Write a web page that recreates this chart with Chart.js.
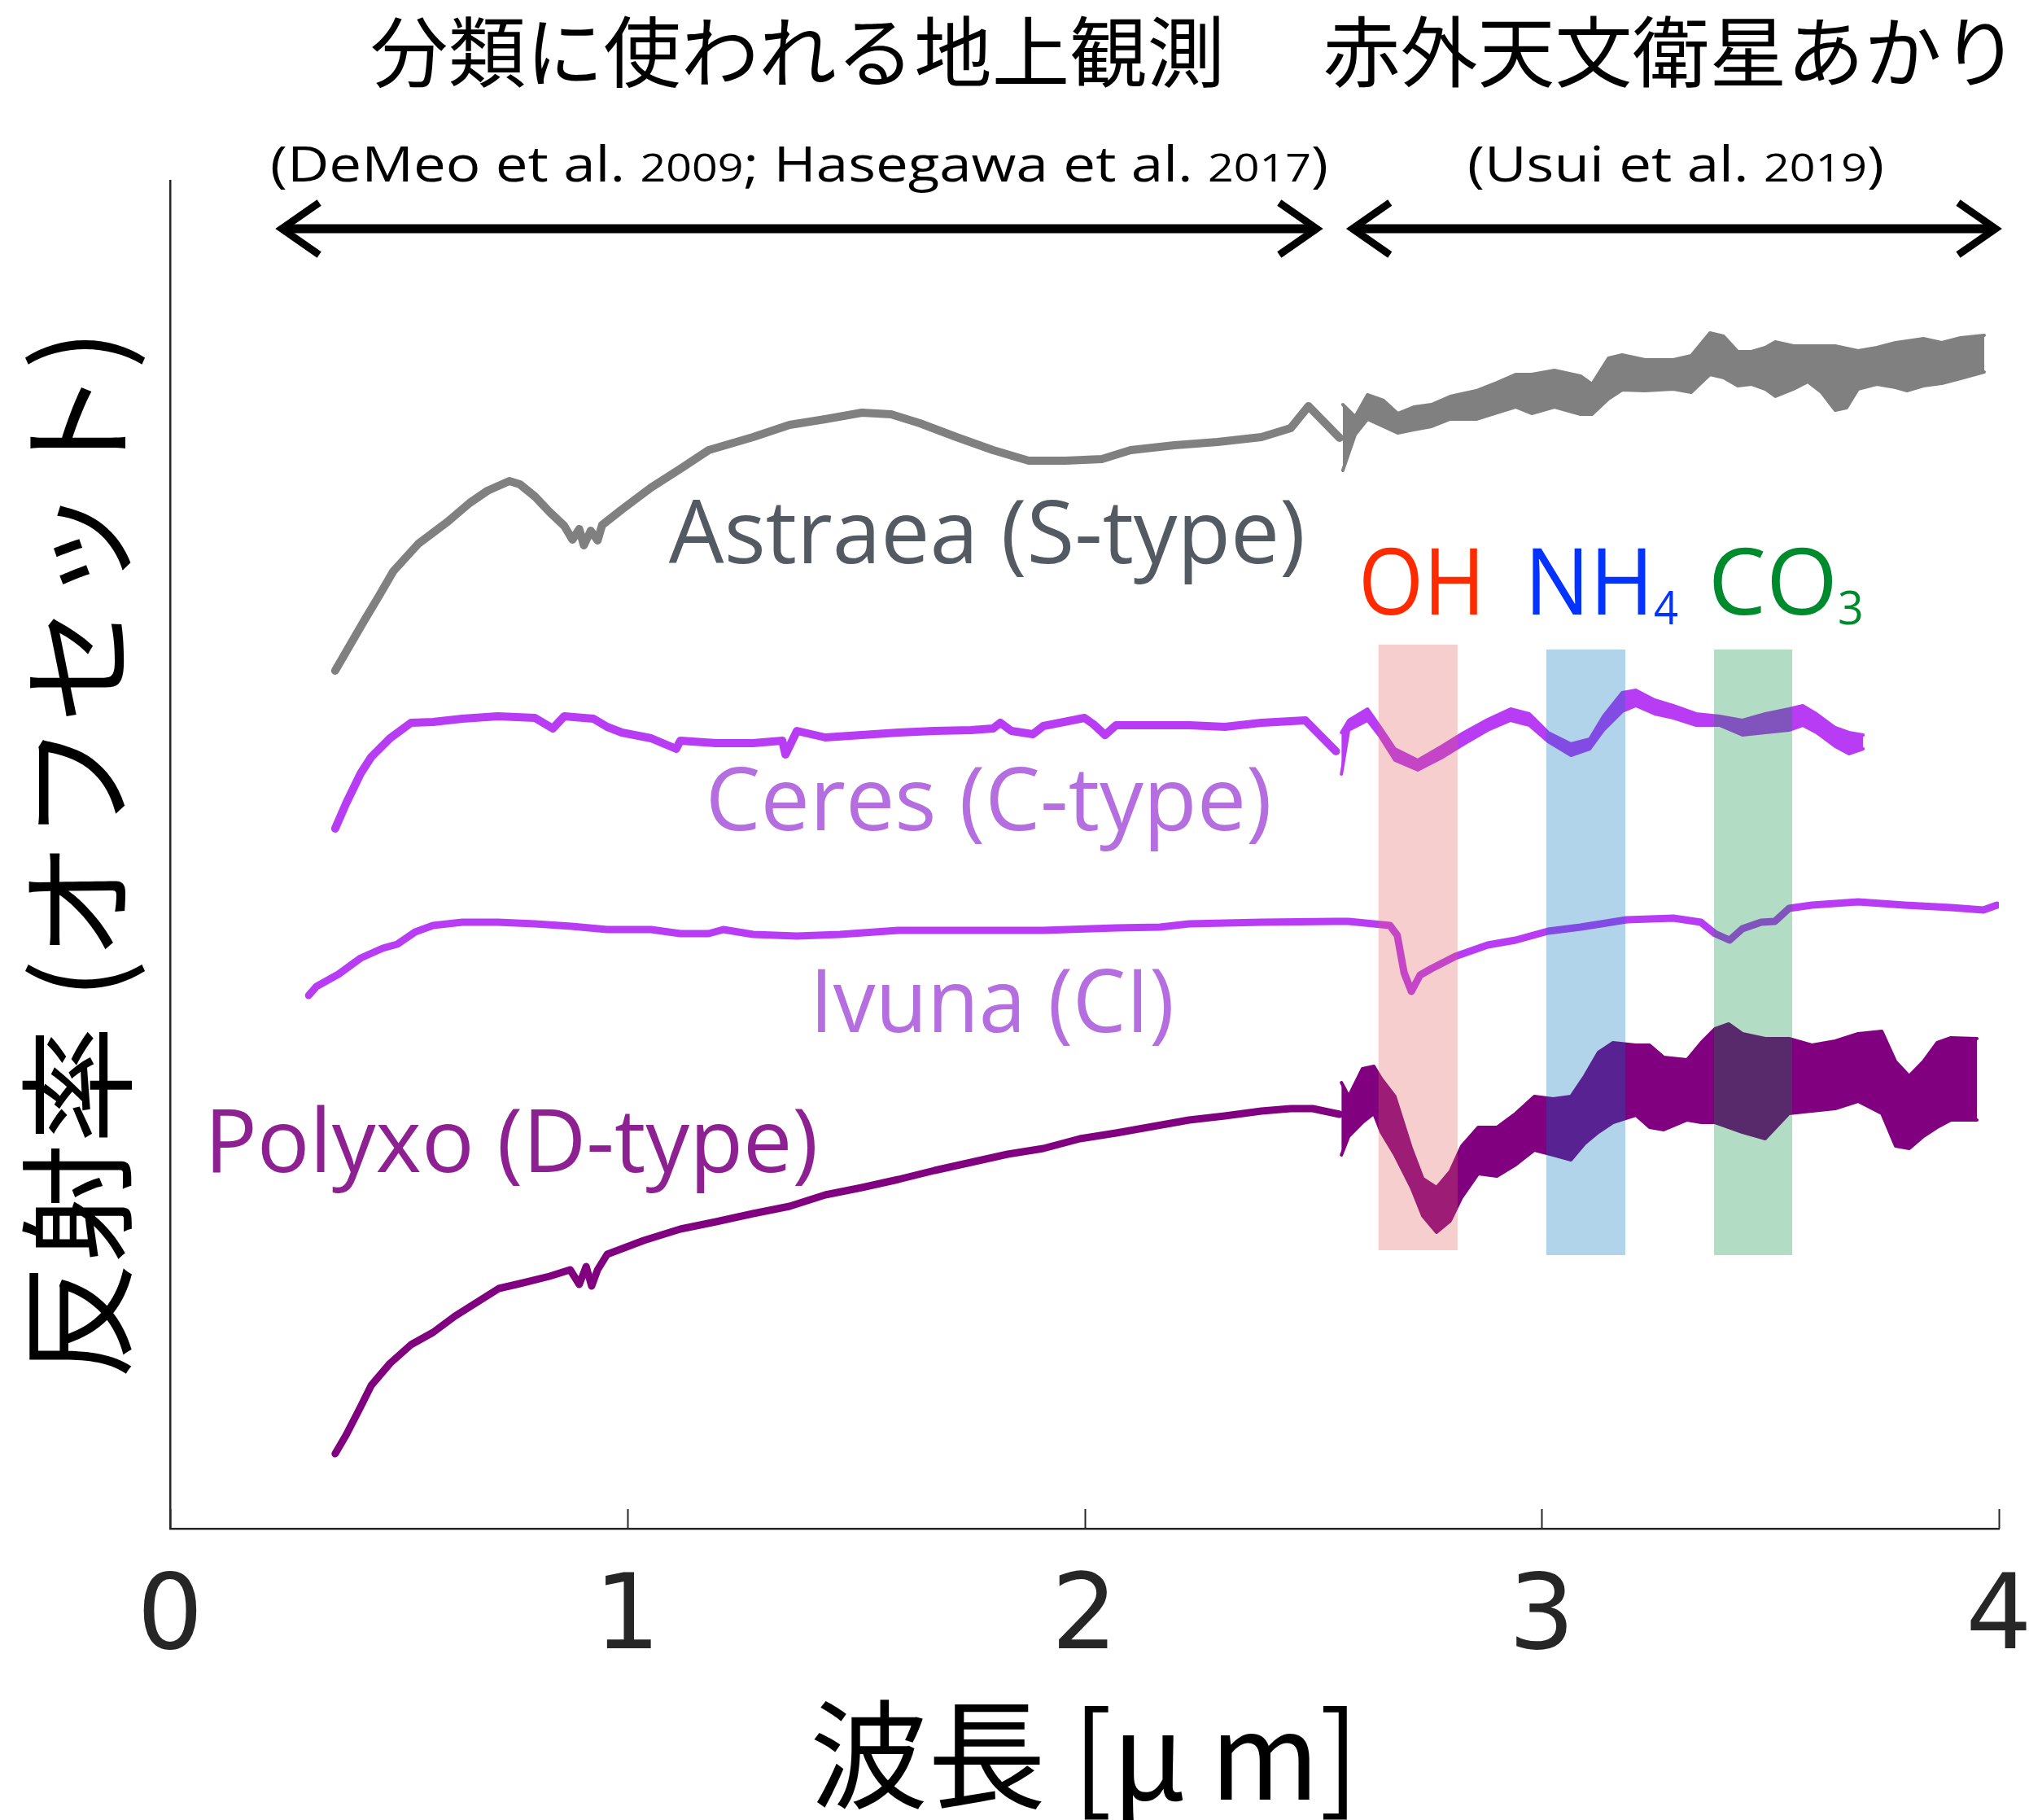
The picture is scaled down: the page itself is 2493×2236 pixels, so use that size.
<!DOCTYPE html>
<html>
<head>
<meta charset="utf-8">
<script src="https://cdn.jsdelivr.net/npm/chart.js@4.4.1/dist/chart.umd.min.js"></script>
<style>
  html, body { margin: 0; padding: 0; background: #ffffff; }
  #wrap { width: 2493px; height: 2236px; }
</style>
</head>
<body>
<div id="wrap"><canvas id="c" width="2493" height="2236"></canvas></div>
<script>
// ---- Ground-based spectra (wavelength in µm, reflectance with offset) ----
const astraeaGroundWl = [0.361,0.424,0.456,0.488,0.543,0.607,0.655,0.694,0.742,0.765,0.798,0.830,0.862,0.880,0.895,0.905,0.920,0.935,0.945,0.988,1.052,1.116,1.178,1.275,1.355,1.433,1.513,1.577,1.640,1.720,1.800,1.878,1.958,2.038,2.101,2.197,2.291,2.387,2.451,2.490,2.558];
const astraeaGroundRef = [1.054,1.115,1.145,1.176,1.210,1.237,1.260,1.275,1.287,1.283,1.268,1.249,1.232,1.215,1.228,1.208,1.226,1.214,1.233,1.252,1.279,1.302,1.325,1.341,1.356,1.363,1.371,1.369,1.358,1.341,1.325,1.312,1.312,1.314,1.325,1.331,1.335,1.341,1.352,1.379,1.340];

const ceresGroundWl = [0.361,0.385,0.417,0.440,0.481,0.527,0.575,0.639,0.717,0.798,0.837,0.862,0.926,0.956,0.988,1.052,1.107,1.116,1.194,1.275,1.339,1.346,1.371,1.433,1.513,1.593,1.672,1.752,1.800,1.816,1.840,1.887,1.910,2.000,2.020,2.045,2.069,2.229,2.307,2.387,2.483,2.550];
const ceresGroundRef = [0.860,0.891,0.928,0.948,0.971,0.990,0.991,0.995,0.998,0.996,0.983,0.998,0.995,0.985,0.978,0.971,0.958,0.968,0.965,0.965,0.968,0.951,0.980,0.972,0.975,0.978,0.980,0.981,0.983,0.990,0.980,0.976,0.986,0.996,0.988,0.975,0.987,0.987,0.985,0.990,0.993,0.955];

const polyxoGroundWl = [0.361,0.385,0.417,0.440,0.481,0.527,0.575,0.623,0.671,0.719,0.765,0.830,0.875,0.895,0.910,0.922,0.935,0.956,1.036,1.116,1.194,1.275,1.355,1.433,1.513,1.593,1.672,1.752,1.832,1.910,1.990,2.069,2.149,2.229,2.307,2.387,2.451,2.499,2.558];
const polyxoGroundRef = [0.092,0.115,0.150,0.176,0.203,0.226,0.241,0.261,0.278,0.295,0.301,0.310,0.318,0.300,0.322,0.298,0.318,0.337,0.354,0.368,0.377,0.387,0.396,0.410,0.419,0.429,0.440,0.450,0.460,0.467,0.479,0.486,0.494,0.502,0.507,0.513,0.516,0.516,0.509];

// ---- Laboratory spectrum of the Ivuna meteorite ----
const ivunaWl = [0.303,0.320,0.368,0.417,0.465,0.497,0.536,0.575,0.639,0.717,0.798,0.878,0.956,1.052,1.116,1.178,1.210,1.275,1.371,1.465,1.593,1.752,1.910,2.069,2.165,2.229,2.387,2.546,2.578,2.668,2.684,2.699,2.715,2.734,2.759,2.811,2.882,2.943,3.014,3.085,3.186,3.288,3.348,3.379,3.411,3.439,3.480,3.510,3.541,3.591,3.692,3.794,3.895,3.966,3.996];
const ivunaRef = [0.655,0.666,0.681,0.701,0.713,0.718,0.733,0.741,0.745,0.745,0.743,0.740,0.736,0.736,0.731,0.731,0.736,0.730,0.728,0.730,0.735,0.735,0.735,0.738,0.739,0.743,0.745,0.746,0.746,0.741,0.729,0.683,0.660,0.680,0.688,0.703,0.717,0.723,0.734,0.739,0.748,0.750,0.745,0.731,0.723,0.737,0.745,0.746,0.762,0.766,0.770,0.766,0.763,0.760,0.766];

// ---- AKARI spectra: upper / lower bounds of the uncertainty envelope ----
const astraeaAkariWl = [2.565,2.592,2.619,2.654,2.685,2.720,2.759,2.800,2.857,2.902,2.943,2.978,3.028,3.085,3.110,3.146,3.176,3.226,3.288,3.327,3.368,3.398,3.429,3.459,3.489,3.511,3.551,3.582,3.612,3.642,3.667,3.692,3.733,3.774,3.799,3.835,3.875,3.916,3.968];
const astraeaAkariHi = [1.381,1.366,1.393,1.386,1.370,1.378,1.381,1.391,1.398,1.408,1.418,1.418,1.423,1.416,1.406,1.438,1.442,1.436,1.436,1.441,1.469,1.465,1.446,1.446,1.451,1.458,1.453,1.453,1.453,1.453,1.450,1.447,1.451,1.457,1.459,1.462,1.457,1.463,1.466];
const astraeaAkariLo = [1.300,1.344,1.363,1.354,1.346,1.350,1.354,1.363,1.363,1.371,1.378,1.370,1.378,1.369,1.369,1.388,1.399,1.398,1.400,1.396,1.418,1.414,1.404,1.406,1.400,1.391,1.400,1.409,1.396,1.374,1.377,1.400,1.406,1.402,1.398,1.404,1.407,1.413,1.421];

const ceresAkariWl = [2.562,2.578,2.619,2.644,2.679,2.729,2.781,2.830,2.882,2.932,2.973,3.014,3.064,3.105,3.135,3.176,3.206,3.247,3.288,3.338,3.389,3.439,3.489,3.541,3.571,3.601,3.642,3.672,3.703];
const ceresAkariHi = [0.978,0.993,1.007,0.987,0.958,0.944,0.961,0.978,0.994,1.007,1.001,0.978,0.964,0.970,0.998,1.027,1.030,1.018,1.011,1.001,0.998,0.993,1.001,1.007,1.011,1.001,0.984,0.978,0.975];
const ceresAkariLo = [0.927,0.981,0.993,0.975,0.944,0.932,0.947,0.964,0.981,0.993,0.987,0.967,0.950,0.958,0.981,1.004,1.011,1.001,0.996,0.987,0.987,0.975,0.978,0.981,0.987,0.978,0.961,0.952,0.958];

const polyxoAkariWl = [2.562,2.578,2.608,2.633,2.649,2.679,2.715,2.740,2.770,2.800,2.825,2.861,2.902,2.943,2.984,3.025,3.064,3.094,3.124,3.156,3.206,3.236,3.267,3.318,3.349,3.379,3.409,3.439,3.489,3.541,3.591,3.642,3.692,3.744,3.774,3.804,3.835,3.865,3.895,3.952];
const polyxoAkariHi = [0.548,0.531,0.565,0.568,0.553,0.531,0.467,0.430,0.419,0.439,0.470,0.493,0.493,0.510,0.531,0.528,0.531,0.556,0.585,0.597,0.594,0.594,0.579,0.576,0.597,0.614,0.620,0.608,0.602,0.602,0.594,0.599,0.608,0.611,0.574,0.556,0.574,0.597,0.603,0.602];
const polyxoAkariLo = [0.459,0.482,0.499,0.510,0.487,0.459,0.419,0.384,0.364,0.378,0.407,0.436,0.433,0.447,0.465,0.459,0.453,0.473,0.487,0.499,0.508,0.493,0.490,0.502,0.499,0.499,0.493,0.487,0.479,0.510,0.513,0.516,0.525,0.510,0.470,0.467,0.482,0.493,0.502,0.502];

// ---- Absorption-band windows ----
const bandNames = ['OH', 'NH4', 'CO3'];
const bandFrom = [2.643, 3.010, 3.377];
const bandTo = [2.816, 3.183, 3.548];
const bandTop = [1.086, 1.080, 1.080];
const bandBottom = [0.342, 0.336, 0.336];

// ---- Axis ----
const xTickValues = [0, 1, 2, 3, 4];

// ---- Styles ----
const GRAY = '#808080';
const VIOLET = '#b93cf5';
const PURPLE = '#800080';
const BAND_FILL = ['rgba(226,92,92,0.30)', 'rgba(0,114,189,0.30)', 'rgba(0,140,60,0.30)'];
const AXIS_COLOR = '#262626';

const pts = (xs, ys) => xs.map((x, i) => ({ x: x, y: ys[i] }));

function groundSet(label, xs, ys, color, width) {
  return { label, data: pts(xs, ys), borderColor: color, borderWidth: width, fill: false };
}
function envelope(label, xs, hi, lo, color) {
  return [
    { label: label + ' upper', data: pts(xs, hi), borderColor: color, borderWidth: 4, fill: false },
    { label: label + ' lower', data: pts(xs, lo), borderColor: color, borderWidth: 4, fill: '-1', backgroundColor: color }
  ];
}

const datasets = [
  groundSet('Astraea', astraeaGroundWl, astraeaGroundRef, GRAY, 10),
  ...envelope('Astraea AKARI', astraeaAkariWl, astraeaAkariHi, astraeaAkariLo, GRAY),
  groundSet('Ceres', ceresGroundWl, ceresGroundRef, VIOLET, 10),
  ...envelope('Ceres AKARI', ceresAkariWl, ceresAkariHi, ceresAkariLo, VIOLET),
  groundSet('Ivuna', ivunaWl, ivunaRef, VIOLET, 9),
  groundSet('Polyxo', polyxoGroundWl, polyxoGroundRef, PURPLE, 9),
  ...envelope('Polyxo AKARI', polyxoAkariWl, polyxoAkariHi, polyxoAkariLo, PURPLE)
];

// draw text made of runs (different sizes / offsets), optionally fitted to a width
function drawRuns(ctx, runs, x, y, opt) {
  opt = opt || {};
  ctx.save();
  const widths = runs.map(r => {
    ctx.font = (r.weight || 400) + ' ' + r.size + 'px ' + r.family;
    return ctx.measureText(r.t).width;
  });
  const total = widths.reduce((a, b) => a + b, 0);
  const sx = opt.width ? opt.width / total : 1;
  const x0 = opt.align === 'center' ? x - total * sx / 2 : x;
  ctx.translate(x0, y);
  ctx.scale(sx, 1);
  ctx.textAlign = 'left';
  ctx.textBaseline = 'alphabetic';
  let cx = 0;
  runs.forEach((r, i) => {
    ctx.font = (r.weight || 400) + ' ' + r.size + 'px ' + r.family;
    ctx.fillStyle = r.color;
    ctx.fillText(r.t, cx, r.dy || 0);
    cx += widths[i];
  });
  ctx.restore();
}

function drawArrow(ctx, xa, xb, y) {
  ctx.save();
  ctx.strokeStyle = '#000';
  ctx.lineWidth = 11;
  ctx.lineCap = 'butt';
  ctx.beginPath();
  ctx.moveTo(xa + 8, y); ctx.lineTo(xb - 8, y);
  ctx.stroke();
  ctx.lineWidth = 9;
  ctx.lineJoin = 'miter';
  ctx.beginPath();
  ctx.moveTo(xa + 50, y - 32); ctx.lineTo(xa + 4, y); ctx.lineTo(xa + 50, y + 32);
  ctx.moveTo(xb - 50, y - 32); ctx.lineTo(xb - 4, y); ctx.lineTo(xb - 50, y + 32);
  ctx.stroke();
  ctx.restore();
}

const LABEL_FONT = '"Open Sans", "Noto Sans", sans-serif';
const CJK_FONT = '"Noto Sans CJK JP", sans-serif';

const decor = {
  id: 'decor',
  afterDatasetsDraw(chart) {
    const { ctx, scales: { x, y } } = chart;
    ctx.save();
    for (let i = 0; i < bandNames.length; i++) {
      const x0 = x.getPixelForValue(bandFrom[i]);
      const x1 = x.getPixelForValue(bandTo[i]);
      const y0 = y.getPixelForValue(bandTop[i]);
      const y1 = y.getPixelForValue(bandBottom[i]);
      ctx.fillStyle = BAND_FILL[i];
      ctx.fillRect(x0, y0, x1 - x0, y1 - y0);
    }
    ctx.restore();
  },
  afterDraw(chart) {
    const { ctx, scales: { x, y } } = chart;
    const X = v => x.getPixelForValue(v);
    const Y = v => y.getPixelForValue(v);

    // inward tick marks on the wavelength axis
    ctx.save();
    ctx.strokeStyle = AXIS_COLOR;
    ctx.lineWidth = 2;
    xTickValues.forEach(v => {
      const px = Math.round(X(v)) + 0.5;
      ctx.beginPath();
      ctx.moveTo(px, y.bottom);
      ctx.lineTo(px, y.bottom - 24);
      ctx.stroke();
    });
    ctx.restore();

    // object names
    drawRuns(ctx, [{ t: 'Astraea (S-type)', size: 108, family: LABEL_FONT, color: '#545a61' }], X(1.091), Y(1.186), { width: 782 });
    drawRuns(ctx, [{ t: 'Ceres (C-type)', size: 108, family: LABEL_FONT, color: '#b46ee0' }], X(1.171), Y(0.858), { width: 696 });
    drawRuns(ctx, [{ t: 'Ivuna (CI)', size: 108, family: LABEL_FONT, color: '#b46ee0' }], X(1.399), Y(0.610), { width: 448 });
    drawRuns(ctx, [{ t: 'Polyxo (D-type)', size: 108, family: LABEL_FONT, color: '#8e2192' }], X(0.075), Y(0.438), { width: 754 });

    // absorption band names
    drawRuns(ctx, [{ t: 'OH', size: 114, family: LABEL_FONT, color: '#ff2a00' }], X(2.599), Y(1.123), { width: 156 });
    drawRuns(ctx, [
      { t: 'NH', size: 114, family: LABEL_FONT, color: '#0433ff' },
      { t: '4', size: 56, family: LABEL_FONT, color: '#0433ff', dy: 12 }
    ], X(2.962), Y(1.123), { width: 189 });
    drawRuns(ctx, [
      { t: 'CO', size: 114, family: LABEL_FONT, color: '#008a2e' },
      { t: '3', size: 56, family: LABEL_FONT, color: '#008a2e', dy: 12 }
    ], X(3.364), Y(1.123), { width: 191 });

    // data source headers and ranges
    drawRuns(ctx, [{ t: '分類に使われる地上観測', size: 95, family: CJK_FONT, color: '#000' }], 980, 100, { align: 'center', width: 1050 });
    drawRuns(ctx, [{ t: '赤外天文衛星あかり', size: 95, family: CJK_FONT, color: '#000' }], 2053, 100, { align: 'center', width: 855 });

    drawRuns(ctx, [
      { t: '(DeMeo et al. ', size: 60, family: LABEL_FONT, color: '#000' },
      { t: '2009', size: 47, family: LABEL_FONT, color: '#000' },
      { t: '; Hasegawa et al. ', size: 60, family: LABEL_FONT, color: '#000' },
      { t: '2017', size: 47, family: LABEL_FONT, color: '#000' },
      { t: ')', size: 60, family: LABEL_FONT, color: '#000' }
    ], 982, 223, { align: 'center', width: 1300 });
    drawRuns(ctx, [
      { t: '(Usui et al. ', size: 60, family: LABEL_FONT, color: '#000' },
      { t: '2019', size: 47, family: LABEL_FONT, color: '#000' },
      { t: ')', size: 60, family: LABEL_FONT, color: '#000' }
    ], 2059, 223, { align: 'center', width: 512 });

    drawArrow(ctx, X(0.237), X(2.515), 281);
    drawArrow(ctx, X(2.579), X(4.0), 281);
  }
};

new Chart(document.getElementById('c'), {
  type: 'line',
  data: { datasets },
  options: {
    responsive: false,
    animation: false,
    devicePixelRatio: 1,
    layout: { padding: { top: 222, right: 37, bottom: 0, left: 0 } },
    datasets: {
      line: { pointRadius: 0, tension: 0, borderJoinStyle: 'round', borderCapStyle: 'round' }
    },
    plugins: { legend: { display: false }, tooltip: { enabled: false } },
    scales: {
      x: {
        type: 'linear', min: 0, max: 4,
        grid: { display: false, drawTicks: false },
        border: { display: true, color: AXIS_COLOR, width: 2.5 },
        ticks: {
          stepSize: 1, autoSkip: false, maxRotation: 0, padding: 37,
          color: AXIS_COLOR,
          font: { family: '"DejaVu Sans", sans-serif', size: 128 }
        },
        title: {
          display: true, text: '波長 [μ\u2009m]', color: '#000',
          font: { family: CJK_FONT, size: 145, lineHeight: 1.0 },
          padding: { top: 0, bottom: 8 }
        },
        afterFit(s) { s.height = 358; s.paddingLeft = 0; s.paddingRight = 0; }
      },
      y: {
        type: 'linear', min: 0, max: 1.656,
        grid: { display: false, drawTicks: false },
        border: { display: true, color: AXIS_COLOR, width: 2.5 },
        ticks: { display: false },
        title: {
          display: true, text: '反射率 (オフセット)', color: '#000',
          font: { family: CJK_FONT, size: 145, lineHeight: 1.0 },
          padding: { top: 22, bottom: 0 }
        },
        afterFit(s) { s.width = 209; }
      }
    }
  },
  plugins: [decor]
});
</script>
</body>
</html>
